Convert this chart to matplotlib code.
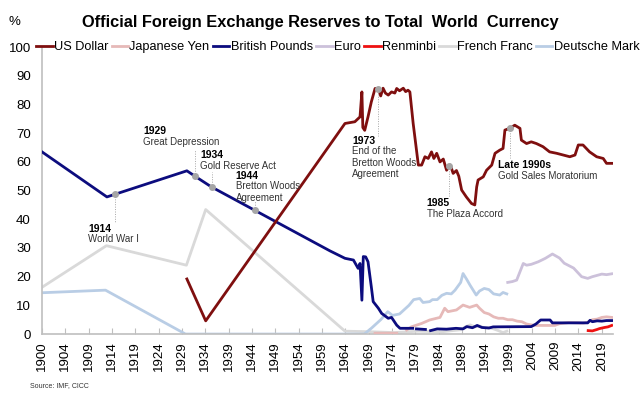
import numpy as np
import matplotlib
matplotlib.use('Agg')
import matplotlib.pyplot as plt

plt.rcParams['font.family'] = ['Liberation Sans', 'DejaVu Sans']

# Share of official FX reserves (%), (year, value) pairs
usd = [(1930.8, 19.2), (1934.8, 4.6), (1964.4, 73.4), (1966.5, 74.0), (1967.6, 75.7), (1968.0, 84.4),
       (1968.2, 72.0), (1968.6, 71.0), (1969.3, 75.7), (1970.0, 80.9), (1970.8, 85.6), (1971.5, 85.5),
       (1972.0, 83.0), (1972.5, 85.7), (1973.0, 84.0), (1973.6, 83.3), (1974.3, 84.4), (1975.0, 84.0),
       (1975.4, 85.6), (1976.0, 84.8), (1976.8, 85.7), (1977.3, 84.5), (1977.8, 85.0), (1978.2, 84.4),
       (1978.9, 73.4), (1980.0, 58.9), (1980.7, 58.9), (1981.4, 61.8), (1982.1, 61.2), (1982.8, 63.5),
       (1983.3, 61.2), (1983.9, 63.0), (1984.6, 60.0), (1985.3, 61.0), (1986.0, 57.1), (1986.8, 58.9),
       (1987.4, 56.0), (1988.1, 57.0), (1988.6, 55.0), (1989.2, 50.2), (1990.2, 47.8), (1991.3, 45.5),
       (1992.0, 45.0), (1992.4, 51.3), (1992.7, 53.7), (1993.8, 54.8), (1994.5, 57.1), (1995.6, 58.9),
       (1996.3, 63.0), (1997.3, 64.1), (1998.0, 64.7), (1998.4, 71.1), (1999.4, 71.7), (2000.5, 72.8),
       (2001.6, 71.7), (2001.9, 67.6), (2003.0, 66.4), (2004.0, 67.0), (2005.1, 66.4), (2006.5, 65.3),
       (2007.9, 63.5), (2009.4, 63.0), (2010.8, 62.4), (2012.2, 61.8), (2013.3, 62.4), (2014.0, 65.9),
       (2015.0, 65.9), (2016.4, 63.5), (2017.9, 61.8), (2019.3, 61.2), (2020.0, 59.5), (2021.1, 59.5)]

jpy = [(1970.8, 0.3), (1975.4, 0.3), (1976.5, np.nan), (1977.5, 1.4), (1978.5, 2.5), (1980.7, 3.7),
       (1982.4, 4.9), (1984.6, 5.8), (1985.6, 9.0), (1986.3, 7.8), (1988.1, 8.4), (1989.5, 10.1),
       (1990.9, 9.3), (1992.4, 10.1), (1993.0, 9.0), (1994.0, 7.5), (1995.0, 7.0), (1996.0, 6.0),
       (1997.0, 5.5), (1998.0, 5.5), (1999.0, 5.0), (2000.0, 5.0), (2001.0, 4.5), (2002.0, 4.3),
       (2003.0, 3.5), (2004.0, 3.2), (2005.0, 3.0), (2007.0, 3.0), (2009.0, 3.0), (2010.0, 3.6),
       (2012.0, 4.0), (2014.0, 3.9), (2015.0, 3.8), (2016.0, 4.1), (2017.0, 5.0), (2018.0, 5.2),
       (2019.0, 5.8), (2020.0, 6.0), (2021.1, 5.8)]

gbp = [(1900.0, 63.5), (1913.8, 47.8), (1930.8, 56.9), (1933.0, 54.5), (1936.0, 51.3), (1961.2, 29.0),
       (1964.4, 26.4), (1966.2, 25.8), (1967.2, 22.9), (1967.6, 24.6), (1968.0, 11.8), (1968.3, 27.0),
       (1968.8, 26.9), (1969.3, 25.2), (1970.0, 16.5), (1970.4, 11.3), (1971.5, 9.0), (1972.2, 7.2),
       (1973.6, 5.5), (1974.3, 5.8), (1975.4, 3.1), (1976.1, 2.0), (1978.8, 2.0), (1979.0, np.nan),
       (1979.6, 1.8), (1981.5, 1.6), (1982.0, np.nan), (1982.6, 1.2), (1984.0, 1.8), (1986.0, 1.7),
       (1988.0, 2.0), (1989.5, 1.8), (1990.3, 2.6), (1991.5, 2.2), (1992.5, 3.0), (1993.5, 2.3),
       (1995.0, 2.1), (1995.9, 2.5), (2004.0, 2.6), (2005.0, 3.5), (2006.0, 4.9), (2008.0, 4.9),
       (2008.5, 3.9), (2016.0, 3.9), (2016.5, 4.8), (2017.0, 4.3), (2018.0, 4.6), (2019.0, 4.5),
       (2020.0, 4.7), (2021.1, 4.7)]

eur = [(1999.0, 18.0), (2000.0, 18.3), (2000.9, 18.8), (2002.3, 24.6), (2003.0, 24.0), (2004.0, 24.3),
       (2005.5, 25.2), (2007.0, 26.4), (2008.5, 27.9), (2010.0, 26.5), (2011.0, 24.7), (2013.0, 23.0),
       (2014.7, 20.0), (2016.0, 19.4), (2017.0, 20.0), (2019.0, 20.9), (2020.0, 20.7), (2021.1, 21.0)]

cny = [(2016.1, 1.2), (2017.0, 1.1), (2018.0, 1.6), (2018.5, 1.9), (2019.6, 2.3), (2020.3, 2.5),
       (2021.1, 3.0)]

frf = [(1900.0, 16.3), (1913.7, 30.8), (1930.7, 24.0), (1934.8, 43.4), (1964.4, 1.0), (1970.0, 0.8),
       (1975.0, 0.5), (1980.0, 1.0), (1985.0, 0.8), (1989.0, 1.5), (1990.0, 2.5), (1991.0, 3.2),
       (1992.0, 2.5), (1993.0, 2.8), (1994.0, 2.2), (1995.0, 2.3), (1996.0, 1.8), (1997.0, 1.2),
       (1998.0, 0.5), (1998.8, 1.0)]

dem = [(1900.0, 14.4), (1913.5, 15.3), (1930.5, 0.0), (1968.5, 0.0), (1970.0, 2.0), (1972.0, 5.0),
       (1973.5, 7.8), (1974.5, 6.5), (1976.0, 7.0), (1977.0, 8.5), (1978.0, 10.0), (1979.0, 12.0),
       (1980.3, 12.4), (1981.0, 11.0), (1982.4, 11.3), (1983.0, 12.0), (1984.0, 12.0), (1985.0, 13.5),
       (1986.0, 14.2), (1987.0, 14.0), (1987.8, 15.3), (1989.0, 18.0), (1989.5, 21.1), (1990.3, 19.0),
       (1991.0, 17.0), (1992.3, 13.6), (1993.0, 15.0), (1994.0, 15.9), (1995.0, 15.5), (1996.0, 14.0),
       (1997.3, 13.6), (1998.0, 14.5), (1998.8, 14.0)]

x_tick_labels = ['1900', '1904', '1909', '1914', '1919', '1924', '1929', '1934', '1939', '1944',
                 '1949', '1954', '1959', '1964', '1969', '1974', '1979', '1984', '1989', '1994',
                 '1999', '2004', '2009', '2014', '2019']

# events: (year of dot, series it sits on, bold label, description)
events = [(1915.5, 'gbp', '1914', 'World War I'),
          (1932.5, 'gbp', '1929', 'Great Depression'),
          (1936.1, 'gbp', '1934', 'Gold Reserve Act'),
          (1945.3, 'gbp', '1944', 'Bretton Woods\nAgreement'),
          (1971.4, 'usd', '1973', 'End of the\nBretton Woods\nAgreement'),
          (1986.6, 'usd', '1985', 'The Plaza Accord'),
          (1999.4, 'usd', 'Late 1990s', 'Gold Sales Moratorium')]

series = {'usd': usd, 'jpy': jpy, 'gbp': gbp, 'eur': eur, 'cny': cny, 'frf': frf, 'dem': dem}

fig = plt.figure(figsize=(6.41, 3.93), dpi=100)
ax = fig.add_axes([0.0655, 0.150, 0.891, 0.730])

styles = [('usd', 'US Dollar', '#7f0f0f'),
          ('jpy', 'Japanese Yen', '#e6b9b8'),
          ('gbp', 'British Pounds', '#0c0c7e'),
          ('eur', 'Euro', '#ccc1da'),
          ('cny', 'Renminbi', '#ee1111'),
          ('frf', 'French Franc', '#d9d9d9'),
          ('dem', 'Deutsche Mark', '#b9cde5')]
zorders = {'frf': 2, 'dem': 2, 'eur': 2, 'jpy': 3, 'cny': 4, 'gbp': 5, 'usd': 6}

handles = []
for key, name, col in styles:
    xs, ys = zip(*series[key])
    h, = ax.plot(xs, ys, color=col, lw=2.0, label=name, zorder=zorders[key],
                 solid_joinstyle='round')
    handles.append(h)

# annotations (dot on the line, dotted leader, bold year + description)
text_pos = {'1914': (1909.8, 38.5, 39.0), '1929': (1921.5, 72.5, 64.0),
            '1934': (1933.6, 64.2, 56.5), '1944': (1941.2, 57.0, 46.5),
            '1973': (1965.9, 69.2, 69.0), '1985': (1981.8, 47.3, 48.0),
            'Late 1990s': (1996.9, 60.5, 61.3)}
for yr, key, lab, desc in events:
    xs, ys = zip(*series[key])
    xs = np.array(xs)
    ys = np.array(ys)
    ok = ~np.isnan(ys)
    yv = np.interp(yr, xs[ok], ys[ok])
    tx, ty, lend = text_pos[lab]
    ax.plot([yr, yr], [yv, lend], color='#a6a6a6', lw=0.7, ls=(0, (1, 1.5)), zorder=7)
    ax.plot(yr, yv, 'o', color='#a6a6a6', ms=4, zorder=8)
    ax.text(tx, ty, lab, fontsize=7.5, fontweight='bold', va='top', ha='left', zorder=9)
    ax.text(tx, ty - 3.8, desc, fontsize=7, va='top', ha='left', color='#333333',
            linespacing=1.15, zorder=9)

ax.set_xlim(1900, 2021.4)
ax.set_ylim(0, 100)
tick_pos = [1900 + i * 119 / 24 for i in range(len(x_tick_labels))]
ax.set_xticks(tick_pos)
ax.set_xticklabels(x_tick_labels, rotation=90, fontsize=9.5)
ax.set_yticks(range(0, 101, 10))
ax.tick_params(axis='y', length=0, labelsize=9.5, pad=8)
ax.tick_params(axis='x', direction='in', length=4, color='#bfbfbf', pad=5)

for s in ['top', 'right']:
    ax.spines[s].set_visible(False)
for s in ['left', 'bottom']:
    ax.spines[s].set_color('#bfbfbf')
    ax.spines[s].set_linewidth(1.2)

fig.text(0.499, 0.944, 'Official Foreign Exchange Reserves to Total  World  Currency',
         ha='center', va='center', fontsize=11.8, fontweight='bold')
fig.text(0.013, 0.944, '%', ha='left', va='center', fontsize=9.5)
fig.text(0.047, 0.018, 'Source: IMF, CICC', ha='left', va='center', fontsize=5, color='#333333')

fig.legend(handles=handles, loc='center', bbox_to_anchor=(0.527, 0.880), ncol=7, frameon=False,
           fontsize=9.2, handlelength=1.3, handletextpad=0.1, columnspacing=0.25,
           borderaxespad=0, borderpad=0)

plt.savefig('out.png', dpi=100)
